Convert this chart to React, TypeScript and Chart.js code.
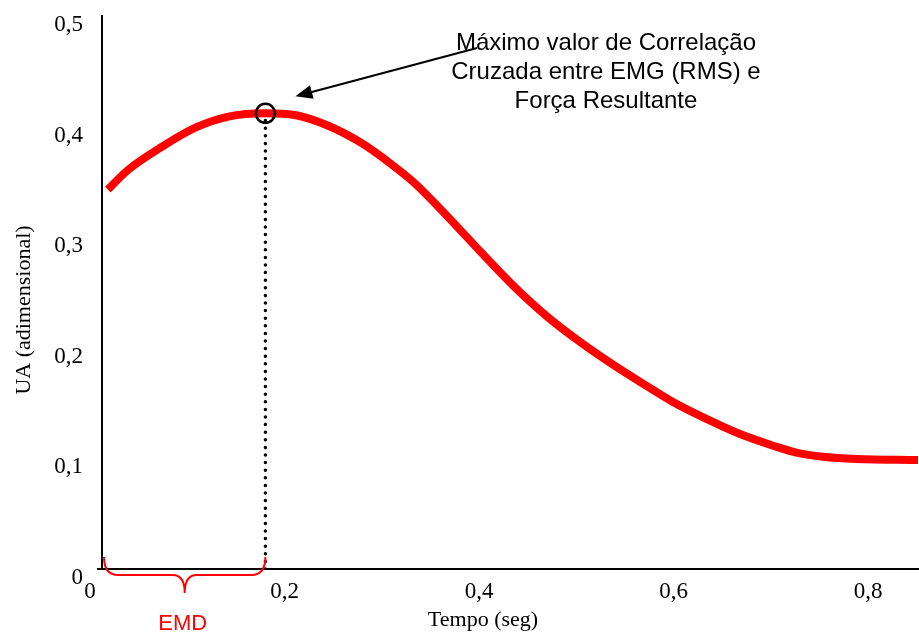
import { useEffect, useRef } from "react";
import { Chart, registerables } from "chart.js";

Chart.register(...registerables);

// Cross-correlation curve between EMG (RMS) and resultant force
const timeSec = [
  0.006, 0.027, 0.062, 0.096, 0.13, 0.168, 0.198, 0.232, 0.267, 0.299, 0.32, 0.355, 0.389,
  0.423, 0.458, 0.492, 0.525, 0.56, 0.587, 0.622, 0.656, 0.69, 0.715, 0.741, 0.776, 0.839,
];
const correlation = [
  0.343, 0.361, 0.382, 0.399, 0.409, 0.412, 0.4105, 0.401, 0.385, 0.365, 0.35, 0.319, 0.287,
  0.256, 0.228, 0.205, 0.185, 0.1655, 0.151, 0.1355, 0.122, 0.1115, 0.105, 0.1015, 0.0995, 0.0985,
];

// Maximum of the correlation (defines the EMD interval)
const peakTime = 0.168;
const peakValue = 0.412;

const annotationLines = ["Máximo valor de Correlação", "Cruzada entre EMG (RMS) e", "Força Resultante"];
const emdLabel = "EMD";
const xTitle = "Tempo (seg)";
const yTitle = "UA (adimensional)";

const SERIF = "'Liberation Serif', 'Times New Roman', serif";
const SANS = "'Liberation Sans', Arial, sans-serif";

const fmt = (v: number) => (v === 0 ? "0" : v.toFixed(1).replace(".", ","));

const overlay = {
  id: "overlay",
  afterDraw(chart: any) {
    const { ctx, scales } = chart;
    const xs = scales.x;
    const ys = scales.y;
    const px = xs.getPixelForValue(peakTime);
    const py = ys.getPixelForValue(peakValue);
    const x0 = xs.getPixelForValue(0);
    const y0 = ys.getPixelForValue(0);

    ctx.save();

    // curly brace marking the EMD interval
    const l = x0 + 2;
    const r = px;
    const c = (l + r) / 2;
    const top = y0 - 12;
    const mid = y0 + 6;
    const tip = y0 + 24;
    ctx.strokeStyle = "#ff0000";
    ctx.lineWidth = 2;
    ctx.beginPath();
    ctx.moveTo(l, top);
    ctx.quadraticCurveTo(l, mid, l + 14, mid);
    ctx.lineTo(c - 12, mid);
    ctx.quadraticCurveTo(c, mid, c, tip);
    ctx.quadraticCurveTo(c, mid, c + 12, mid);
    ctx.lineTo(r - 14, mid);
    ctx.quadraticCurveTo(r, mid, r, top);
    ctx.stroke();

    ctx.fillStyle = "#ff0000";
    ctx.font = `22px ${SANS}`;
    ctx.textAlign = "center";
    ctx.textBaseline = "alphabetic";
    ctx.fillText(emdLabel, c - 2, 630);

    // arrow pointing at the maximum
    const sx = 477;
    const sy = 48;
    const tx = px + 30;
    const ty = py - 17;
    const ang = Math.atan2(ty - sy, tx - sx);
    const headLen = 17;
    const headW = 7;
    const bx = tx - headLen * Math.cos(ang);
    const by = ty - headLen * Math.sin(ang);
    ctx.strokeStyle = "#000";
    ctx.fillStyle = "#000";
    ctx.lineWidth = 2;
    ctx.beginPath();
    ctx.moveTo(sx, sy);
    ctx.lineTo(bx, by);
    ctx.stroke();
    ctx.beginPath();
    ctx.moveTo(tx, ty);
    ctx.lineTo(bx + headW * Math.sin(ang), by - headW * Math.cos(ang));
    ctx.lineTo(bx - headW * Math.sin(ang), by + headW * Math.cos(ang));
    ctx.closePath();
    ctx.fill();

    // annotation text
    ctx.font = `24px ${SANS}`;
    ctx.textAlign = "center";
    annotationLines.forEach((line, i) => {
      ctx.fillText(line, 606, 50 + i * 29);
    });

    // axis titles
    ctx.font = `22px ${SERIF}`;
    ctx.textBaseline = "middle";
    ctx.fillText(xTitle, 483, 620);
    ctx.translate(24, 310);
    ctx.rotate(-Math.PI / 2);
    ctx.fillText(yTitle, 0, 0);

    ctx.restore();
  },
};

export default function App() {
  const canvasRef = useRef<HTMLCanvasElement | null>(null);

  useEffect(() => {
    document.body.style.margin = "0";
    const canvas = canvasRef.current;
    if (!canvas) return;

    const curve = timeSec.map((t, i) => ({ x: t, y: correlation[i] }));

    const chart = new Chart(canvas, {
      type: "line",
      data: {
        datasets: [
          {
            data: [{ x: peakTime, y: peakValue }],
            showLine: false,
            pointRadius: 9.5,
            pointHoverRadius: 9.5,
            pointBorderWidth: 2.5,
            pointBorderColor: "#000",
            pointBackgroundColor: "rgba(0,0,0,0)",
            order: 1,
          },
          {
            data: curve,
            borderColor: "#ff0000",
            borderWidth: 8,
            pointRadius: 0,
            cubicInterpolationMode: "monotone",
            borderJoinStyle: "round",
            order: 2,
          },
          {
            data: [
              { x: peakTime, y: 0 },
              { x: peakTime, y: peakValue },
            ],
            borderColor: "#000",
            borderWidth: 3.5,
            borderDash: [0, 7.6],
            borderCapStyle: "round",
            pointRadius: 0,
            order: 3,
          },
        ],
      },
      options: {
        responsive: false,
        maintainAspectRatio: false,
        animation: false,
        devicePixelRatio: 1,
        layout: { autoPadding: false, padding: { top: 16, right: 0, left: 0, bottom: 0 } },
        plugins: { legend: { display: false }, tooltip: { enabled: false } },
        scales: {
          x: {
            type: "linear",
            min: 0,
            max: 0.84,
            grid: { display: false, drawTicks: false },
            border: { display: true, color: "#000", width: 2 },
            ticks: {
              stepSize: 0.2,
              includeBounds: false,
              padding: 9,
              labelOffset: -12,
              maxRotation: 0,
              color: "#000",
              font: { family: SERIF, size: 23 },
              callback: (v: any) => fmt(Number(v)),
            },
            afterFit: (s: any) => {
              s.height = 71;
              s.paddingLeft = 0;
              s.paddingRight = 0;
            },
          },
          y: {
            type: "linear",
            min: 0,
            max: 0.5,
            grid: {
              display: true,
              drawOnChartArea: false,
              drawTicks: true,
              tickLength: 5,
              lineWidth: 2,
              color: (c: any) => (c.tick && c.tick.value === 0 ? "#000" : "rgba(0,0,0,0)"),
            },
            border: { display: true, color: "#000", width: 2 },
            ticks: {
              stepSize: 0.1,
              padding: 14,
              labelOffset: 9,
              color: "#000",
              font: { family: SERIF, size: 23 },
              callback: (v: any) => fmt(Number(v)),
            },
            afterFit: (s: any) => {
              s.width = 102;
              s.paddingTop = 0;
              s.paddingBottom = 0;
            },
          },
        },
      },
      plugins: [overlay],
    });

    return () => chart.destroy();
  }, []);

  return (
    <div style={{ position: "relative", width: 919, height: 640, background: "#fff" }}>
      <canvas ref={canvasRef} width={919} height={640} style={{ display: "block" }} />
    </div>
  );
}
